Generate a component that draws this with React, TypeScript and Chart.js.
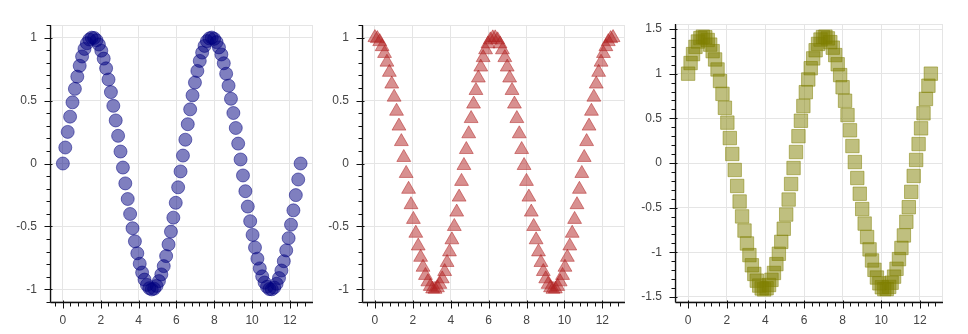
import React, { useEffect, useRef } from "react";
import { Chart, registerables } from "chart.js";

Chart.register(...registerables);

// x = 0 .. 4π, 100 samples
const X_VALUES = [
  0, 0.127, 0.254, 0.381, 0.508, 0.635, 0.762, 0.889, 1.015, 1.142,
  1.269, 1.396, 1.523, 1.65, 1.777, 1.904, 2.031, 2.158, 2.285, 2.412,
  2.539, 2.666, 2.793, 2.919, 3.046, 3.173, 3.3, 3.427, 3.554, 3.681,
  3.808, 3.935, 4.062, 4.189, 4.316, 4.443, 4.57, 4.697, 4.823, 4.95,
  5.077, 5.204, 5.331, 5.458, 5.585, 5.712, 5.839, 5.966, 6.093, 6.22,
  6.347, 6.474, 6.601, 6.728, 6.854, 6.981, 7.108, 7.235, 7.362, 7.489,
  7.616, 7.743, 7.87, 7.997, 8.124, 8.251, 8.378, 8.505, 8.631, 8.758,
  8.885, 9.012, 9.139, 9.266, 9.393, 9.52, 9.647, 9.774, 9.901, 10.028,
  10.155, 10.282, 10.409, 10.536, 10.662, 10.789, 10.916, 11.043, 11.17, 11.297,
  11.424, 11.551, 11.678, 11.805, 11.932, 12.059, 12.186, 12.313, 12.44, 12.566,
];

const SIN_VALUES = [
  0, 0.127, 0.251, 0.372, 0.486, 0.593, 0.69, 0.776, 0.85, 0.91,
  0.955, 0.985, 0.999, 0.997, 0.979, 0.945, 0.896, 0.833, 0.756, 0.667,
  0.567, 0.458, 0.342, 0.22, 0.095, -0.032, -0.158, -0.282, -0.401, -0.514,
  -0.618, -0.713, -0.796, -0.866, -0.922, -0.964, -0.99, -1.0, -0.994, -0.972,
  -0.934, -0.881, -0.815, -0.735, -0.643, -0.541, -0.43, -0.312, -0.189, -0.063,
  0.063, 0.189, 0.312, 0.43, 0.541, 0.643, 0.735, 0.815, 0.881, 0.934,
  0.972, 0.994, 1.0, 0.99, 0.964, 0.922, 0.866, 0.796, 0.713, 0.618,
  0.514, 0.401, 0.282, 0.158, 0.032, -0.095, -0.22, -0.342, -0.458, -0.567,
  -0.667, -0.756, -0.833, -0.896, -0.945, -0.979, -0.997, -0.999, -0.985, -0.955,
  -0.91, -0.85, -0.776, -0.69, -0.593, -0.486, -0.372, -0.251, -0.127, 0,
];

const COS_VALUES = [
  1.0, 0.992, 0.968, 0.928, 0.874, 0.805, 0.724, 0.631, 0.527, 0.415,
  0.297, 0.174, 0.048, -0.079, -0.205, -0.327, -0.444, -0.554, -0.655, -0.745,
  -0.824, -0.889, -0.94, -0.976, -0.996, -0.999, -0.987, -0.96, -0.916, -0.858,
  -0.786, -0.702, -0.606, -0.5, -0.386, -0.267, -0.142, -0.016, 0.111, 0.236,
  0.357, 0.472, 0.58, 0.679, 0.766, 0.841, 0.903, 0.95, 0.982, 0.998,
  0.998, 0.982, 0.95, 0.903, 0.841, 0.766, 0.679, 0.58, 0.472, 0.357,
  0.236, 0.111, -0.016, -0.142, -0.267, -0.386, -0.5, -0.606, -0.702, -0.786,
  -0.858, -0.916, -0.96, -0.987, -0.999, -0.996, -0.976, -0.94, -0.889, -0.824,
  -0.745, -0.655, -0.554, -0.444, -0.327, -0.205, -0.079, 0.048, 0.174, 0.297,
  0.415, 0.527, 0.631, 0.724, 0.805, 0.874, 0.928, 0.968, 0.992, 1.0,
];

const SUM_VALUES = [
  1.0, 1.119, 1.219, 1.3, 1.36, 1.398, 1.414, 1.407, 1.377, 1.325,
  1.252, 1.159, 1.047, 0.918, 0.774, 0.618, 0.452, 0.279, 0.101, -0.078,
  -0.257, -0.431, -0.598, -0.756, -0.901, -1.031, -1.145, -1.242, -1.317, -1.372,
  -1.404, -1.415, -1.402, -1.366, -1.308, -1.231, -1.132, -1.016, -0.883, -0.736,
  -0.577, -0.409, -0.235, -0.056, 0.123, 0.3, 0.473, 0.638, 0.793, 0.935,
  1.061, 1.171, 1.262, 1.333, 1.382, 1.409, 1.414, 1.395, 1.353, 1.291,
  1.208, 1.105, 0.984, 0.848, 0.697, 0.536, 0.366, 0.19, 0.011, -0.168,
  -0.344, -0.515, -0.678, -0.829, -0.967, -1.091, -1.196, -1.282, -1.347, -1.391,
  -1.412, -1.411, -1.387, -1.34, -1.272, -1.184, -1.076, -0.951, -0.811, -0.658,
  -0.495, -0.323, -0.145, 0.034, 0.212, 0.388, 0.556, 0.717, 0.865, 1.0,
];

const X_TICKS = [0, 2, 4, 6, 8, 10, 12];
const X_TICK_LABELS = ["0", "2", "4", "6", "8", "10", "12"];
const Y_TICKS_UNIT = [-1, -0.5, 0, 0.5, 1];
const Y_TICK_LABELS_UNIT = ["-1", "-0.5", "0", "0.5", "1"];
const Y_TICKS_SUM = [-1.5, -1, -0.5, 0, 0.5, 1, 1.5];
const Y_TICK_LABELS_SUM = ["-1.5", "-1", "-0.5", "0", "0.5", "1", "1.5"];

const FONT_FAMILY = "'Liberation Sans', Arial, Helvetica, sans-serif";

const bokehAxes = {
  id: "bokehAxes",
  beforeDatasetsDraw(chart: any) {
    const { ctx, chartArea: a } = chart;
    ctx.save();
    ctx.strokeStyle = "#e5e5e5";
    ctx.lineWidth = 1;
    ctx.strokeRect(
      Math.round(a.left) + 0.5,
      Math.round(a.top) + 0.5,
      Math.round(a.right - a.left) - 1,
      Math.round(a.bottom - a.top) - 1
    );
    ctx.restore();
  },
  afterDraw(chart: any) {
    const { ctx, chartArea: a } = chart;
    const xs = chart.scales.x;
    const ys = chart.scales.y;
    const ax = Math.round(a.left) - 0.5;
    const ay = Math.round(a.bottom) + 0.5;
    ctx.save();
    ctx.strokeStyle = "#111";
    ctx.lineWidth = 1.3;
    ctx.beginPath();
    ctx.moveTo(ax, Math.round(a.top));
    ctx.lineTo(ax, ay);
    ctx.moveTo(ax, ay);
    ctx.lineTo(Math.round(a.right), ay);
    ctx.stroke();
    ctx.lineWidth = 1;
    ctx.beginPath();
    // x major ticks
    xs.ticks.forEach((t: any) => {
      const px = Math.round(xs.getPixelForValue(t.value)) + 0.5;
      ctx.moveTo(px, ay - 2);
      ctx.lineTo(px, ay + 6);
    });
    // x minor ticks
    const xStep = 0.4;
    for (let k = Math.ceil(xs.min / xStep); k * xStep <= xs.max; k++) {
      if (k % 5 === 0) continue;
      const px = Math.round(xs.getPixelForValue(k * xStep)) + 0.5;
      ctx.moveTo(px, ay);
      ctx.lineTo(px, ay + 4);
    }
    // y major ticks
    ys.ticks.forEach((t: any) => {
      const py = Math.round(ys.getPixelForValue(t.value)) + 0.5;
      ctx.moveTo(ax + 2, py);
      ctx.lineTo(ax - 6, py);
    });
    const yStep = 0.1;
    for (let k = Math.ceil(ys.min / yStep - 1e-9); k * yStep <= ys.max + 1e-9; k++) {
      if (k % 5 === 0) continue;
      const py = Math.round(ys.getPixelForValue(k * yStep)) + 0.5;
      ctx.moveTo(ax, py);
      ctx.lineTo(ax - 4, py);
    }
    ctx.stroke();
    ctx.restore();
  },
};

type PanelSpec = {
  left: number;
  width: number;
  yAxisWidth: number;
  padRight: number;
  padTop: number;
  values: number[];
  yMin: number;
  yMax: number;
  yTicks: number[];
  yLabels: string[];
  pointStyle: string;
  radius: number;
  color: string;
};

const PANELS: PanelSpec[] = [
  {
    left: 0, width: 320, yAxisWidth: 51, padRight: 2, padTop: 25,
    values: SIN_VALUES, yMin: -1.1, yMax: 1.1,
    yTicks: Y_TICKS_UNIT, yLabels: Y_TICK_LABELS_UNIT,
    pointStyle: "circle", radius: 6.5, color: "rgba(0,0,128,0.5)",
  },
  {
    left: 320, width: 314, yAxisWidth: 43, padRight: 2, padTop: 25,
    values: COS_VALUES, yMin: -1.1, yMax: 1.1,
    yTicks: Y_TICKS_UNIT, yLabels: Y_TICK_LABELS_UNIT,
    pointStyle: "triangle", radius: 8, color: "rgba(178,34,34,0.5)",
  },
  {
    left: 634, width: 334, yAxisWidth: 42, padRight: 25, padTop: 24,
    values: SUM_VALUES, yMin: -1.556, yMax: 1.556,
    yTicks: Y_TICKS_SUM, yLabels: Y_TICK_LABELS_SUM,
    pointStyle: "rect", radius: 9.5, color: "rgba(128,128,0,0.5)",
  },
];

const HEIGHT = 334;

function Panel({ spec }: { spec: PanelSpec }) {
  const ref = useRef<HTMLCanvasElement | null>(null);
  useEffect(() => {
    if (!ref.current) return;
    const tickFont = { family: FONT_FAMILY, size: 12 };
    const chart = new Chart(ref.current, {
      type: "scatter",
      data: {
        datasets: [
          {
            data: X_VALUES.map((x, i) => ({ x, y: spec.values[i] })),
            pointStyle: spec.pointStyle as any,
            pointRadius: spec.radius,
            pointHoverRadius: spec.radius,
            backgroundColor: spec.color,
            borderColor: spec.color,
            borderWidth: 1,
            showLine: false,
          },
        ],
      },
      options: {
        animation: false,
        responsive: false,
        devicePixelRatio: 1,
        events: [],
        layout: { padding: { top: spec.padTop, right: spec.padRight, left: 0, bottom: 0 } },
        plugins: { legend: { display: false }, tooltip: { enabled: false } },
        scales: {
          x: {
            type: "linear",
            min: -0.628,
            max: 13.195,
            afterBuildTicks: (s: any) => {
              s.ticks = X_TICKS.map((v) => ({ value: v }));
            },
            afterFit: (s: any) => {
              s.height = 32;
            },
            ticks: {
              autoSkip: false,
              maxRotation: 0,
              padding: 11,
              color: "#444",
              font: tickFont,
              callback: (v: any) => {
                const i = X_TICKS.indexOf(Number(v));
                return i >= 0 ? X_TICK_LABELS[i] : "";
              },
            },
            grid: { color: "#e5e5e5", drawTicks: false, lineWidth: 1 },
            border: { display: false },
          },
          y: {
            type: "linear",
            min: spec.yMin,
            max: spec.yMax,
            afterBuildTicks: (s: any) => {
              s.ticks = spec.yTicks.map((v) => ({ value: v }));
            },
            afterFit: (s: any) => {
              s.width = spec.yAxisWidth;
            },
            ticks: {
              autoSkip: false,
              padding: 14,
              color: "#444",
              font: tickFont,
              callback: (v: any) => {
                const i = spec.yTicks.indexOf(Number(v));
                return i >= 0 ? spec.yLabels[i] : "";
              },
            },
            grid: { color: "#e5e5e5", drawTicks: false, lineWidth: 1 },
            border: { display: false },
          },
        },
      } as any,
      plugins: [bokehAxes],
    });
    return () => chart.destroy();
  }, [spec]);
  return (
    <canvas
      ref={ref}
      width={spec.width}
      height={HEIGHT}
      style={{
        position: "absolute",
        left: spec.left,
        top: 0,
        width: spec.width,
        height: HEIGHT,
        display: "block",
      }}
    />
  );
}

export default function App() {
  return (
    <div
      style={{
        position: "absolute",
        left: 0,
        top: 0,
        width: 968,
        height: HEIGHT,
        background: "#ffffff",
        overflow: "hidden",
      }}
    >
      {PANELS.map((p, i) => (
        <Panel key={i} spec={p} />
      ))}
    </div>
  );
}
